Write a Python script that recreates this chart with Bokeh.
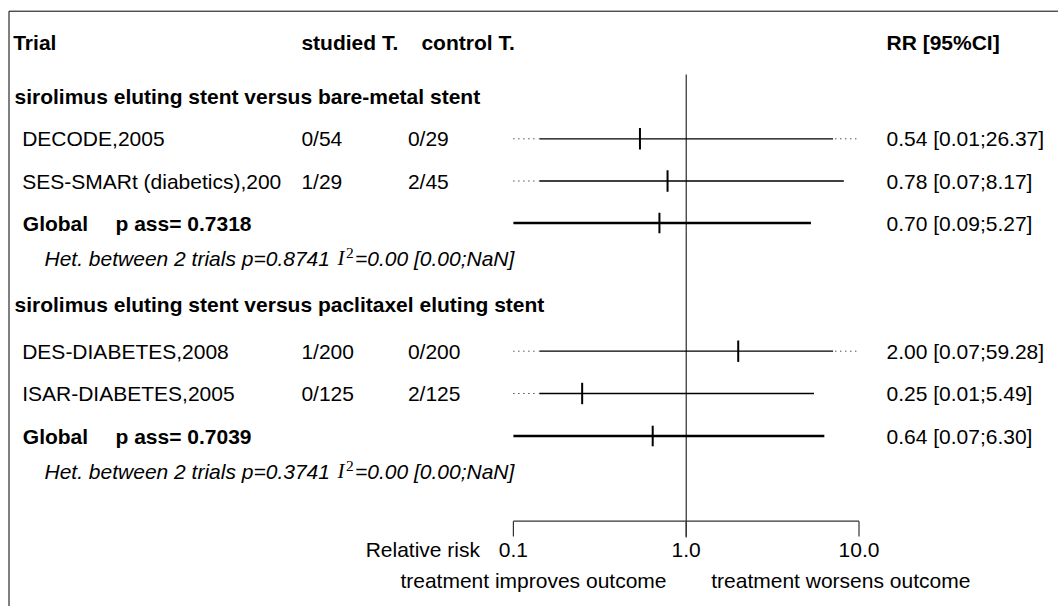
from bokeh.plotting import figure
from bokeh.models import Range1d, LogScale
from bokeh.core.properties import value
from bokeh.embed import file_html
from bokeh.resources import INLINE

# ---------------- data ----------------
header_labels = ["Trial", "studied T.", "control T.", "RR [95%CI]"]
group_titles = ["sirolimus eluting stent versus bare-metal stent",
                "sirolimus eluting stent versus paclitaxel eluting stent"]
trials = ["DECODE,2005", "SES-SMARt (diabetics),200", "DES-DIABETES,2008", "ISAR-DIABETES,2005"]
studied = ["0/54", "1/29", "1/200", "0/125"]
control = ["0/29", "2/45", "0/200", "2/125"]
rr = [0.54, 0.78, 2.00, 0.25]
rr_lo = [0.01, 0.07, 0.07, 0.01]
rr_hi = [26.37, 8.17, 59.28, 5.49]
global_rr = [0.70, 0.64]
global_lo = [0.09, 0.07]
global_hi = [5.27, 6.30]
global_p = ["0.7318", "0.7039"]
het_n = [2, 2]
het_p = ["0.8741", "0.3741"]
het_i2 = ["0.00", "0.00"]
het_i2_ci = ["[0.00;NaN]", "[0.00;NaN]"]
axis_ticks = [0.1, 1.0, 10.0]
axis_tick_labels = ["0.1", "1.0", "10.0"]
x_min, x_max = 0.1, 10.0

# ---------------- layout ----------------
W, H = 1058, 606
X_ONE = 685.7      # pixel of RR = 1
DECADE = 172.8     # pixels per decade
FONT = value("Liberation Sans")
FS = "21px"

header_y = 41.5
title_y = [96, 304]
trial_y = [138.3, 180.5, 350.7, 393.0]
global_y = [222.5, 435.5]
het_y = [257.5, 470.5]
axis_y = 520.7
tick_len = 15.3
ticklab_y = 549
bottom_y = 580
ref_top = 74

p = figure(width=W, height=H, x_range=Range1d(0, W), y_range=Range1d(H, 0),
           output_backend="svg", toolbar_location=None, min_border=0,
           x_axis_location=None, y_axis_location=None,
           outline_line_color=None, background_fill_color="white",
           border_fill_color="white")
p.grid.visible = False
p.extra_x_ranges = {"log": Range1d(10 ** (-X_ONE / DECADE), 10 ** ((W - X_ONE) / DECADE))}
p.extra_x_scales = {"log": LogScale()}

# outer frame (open at right/bottom as in the reference)
p.line(x=[8.5, 8.5, W + 5], y=[H + 5, 10.7, 10.7], line_color="black", line_width=1)

def txt(x, y, s, align="left", style="normal", font=FONT, size=FS, xr="default"):
    kw = {}
    if xr != "default":
        kw["x_range_name"] = xr
    p.text(x=x if isinstance(x, list) else [x], y=y if isinstance(y, list) else [y],
           text=s if isinstance(s, list) else [s], text_font=font, text_font_size=size,
           text_font_style=style, text_align=align, text_baseline="middle",
           text_color="black", **kw)

# header
txt([12.7, 300.9, 420.9, 886], [header_y] * 4, header_labels, style="bold")
# group titles
txt([14, 14], title_y, group_titles, style="bold")
# trial rows
txt([21.7] * 4, trial_y, trials)
txt([300.9] * 4, trial_y, studied)
txt([407.4] * 4, trial_y, control)
txt([886] * 4, trial_y, ["%.2f [%.2f;%.2f]" % (a, b, c) for a, b, c in zip(rr, rr_lo, rr_hi)])
# global rows
txt([22.3] * 2, global_y, ["Global"] * 2, style="bold")
txt([115] * 2, global_y, ["p ass= " + s for s in global_p], style="bold")
txt([886] * 2, global_y, ["%.2f [%.2f;%.2f]" % (a, b, c) for a, b, c in zip(global_rr, global_lo, global_hi)])
# heterogeneity rows
txt([44] * 2, het_y, ["Het. between %d trials p=%s" % (n, s) for n, s in zip(het_n, het_p)], style="italic")
txt([337] * 2, het_y, ["I"] * 2, style="italic", font=value("Liberation Serif"))
txt([345.5] * 2, [y - 5.5 for y in het_y], ["2"] * 2, size="15.5px", font=value("Liberation Serif"))
txt([354.5] * 2, het_y, ["=%s %s" % (a, b) for a, b in zip(het_i2, het_i2_ci)], style="italic")

# ---------------- CI lines ----------------
inner = 10 ** 0.15
in_lo, in_hi = x_min * inner, x_max / inner
s_x0, s_x1, s_y = [], [], []
d_x0, d_x1, d_y = [], [], []
for l, h, y in zip(rr_lo, rr_hi, trial_y):
    a = l if l >= x_min else in_lo
    b = h if h <= x_max else in_hi
    s_x0.append(a); s_x1.append(b); s_y.append(y)
    if l < x_min:
        d_x0.append(x_min); d_x1.append(in_lo * 0.99); d_y.append(y)
    if h > x_max:
        d_x0.append(in_hi * 1.03); d_x1.append(x_max); d_y.append(y)
p.segment(x0=s_x0, x1=s_x1, y0=s_y, y1=s_y, x_range_name="log", line_color="black", line_width=1.3)
p.segment(x0=d_x0, x1=d_x1, y0=d_y, y1=d_y, x_range_name="log", line_color="black",
          line_width=1, line_dash="1 4")
p.segment(x0=rr, x1=rr, y0=[y - 10.7 for y in trial_y], y1=[y + 10.7 for y in trial_y],
          x_range_name="log", line_color="black", line_width=2)

g0 = [max(v, x_min) for v in global_lo]
g1 = [min(v, x_max) for v in global_hi]
p.segment(x0=g0, x1=g1, y0=global_y, y1=global_y, x_range_name="log", line_color="black", line_width=2.6)
p.segment(x0=global_rr, x1=global_rr, y0=[y - 10.3 for y in global_y], y1=[y + 10.3 for y in global_y],
          x_range_name="log", line_color="black", line_width=2)

# reference line at RR = 1
p.segment(x0=[1.0], x1=[1.0], y0=[ref_top], y1=[axis_y + tick_len + 1], x_range_name="log",
          line_color="black", line_width=1)

# ---------------- axis ----------------
p.segment(x0=[x_min], x1=[x_max], y0=[axis_y], y1=[axis_y], x_range_name="log",
          line_color="#333333", line_width=1.2)
p.segment(x0=axis_ticks, x1=axis_ticks, y0=[axis_y] * 3, y1=[axis_y + tick_len] * 3,
          x_range_name="log", line_color="#333333", line_width=1.2)
txt(axis_ticks, [ticklab_y] * 3, axis_tick_labels, align="center", xr="log")
txt(479.5, ticklab_y, "Relative risk", align="right")
txt(666, bottom_y, "treatment improves outcome", align="right")
txt(710.7, bottom_y, "treatment worsens outcome", align="left")

open("out.html", "w").write(file_html(p, INLINE))
